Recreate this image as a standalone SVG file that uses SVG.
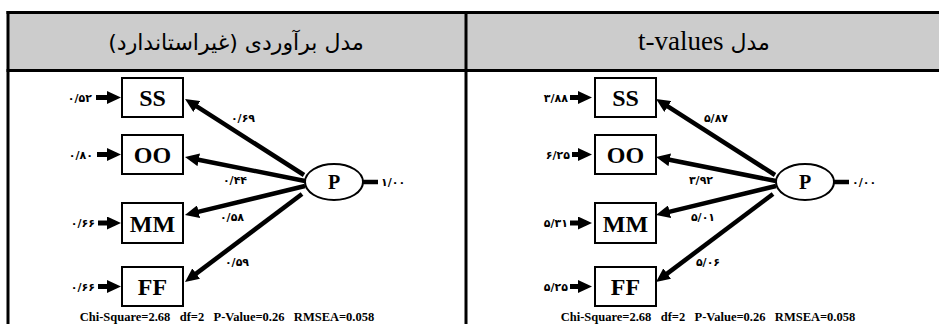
<svg xmlns="http://www.w3.org/2000/svg" width="939" height="324" viewBox="0 0 939 324">
  <style>
    .hdr{fill:#cccccc}
    .rule{stroke:#000;stroke-width:3;fill:none}
    .box{fill:#fff;stroke:#000;stroke-width:2}
    .lat{fill:#fff;stroke:#000;stroke-width:2}
    .lbl{font-family:"Liberation Serif",serif;font-weight:bold;font-size:24px;text-anchor:middle}
    .num{font-family:"DejaVu Sans",sans-serif;font-size:11px;font-weight:bold;fill:#000}
    .edge{stroke:#000;stroke-width:4.5;fill:none;marker-end:url(#ah)}
    .err{stroke:#000;stroke-width:5;fill:none;marker-end:url(#ah)}
    .out{stroke:#000;stroke-width:4.5;fill:none}
    .fit{font-family:"Liberation Serif",serif;font-weight:bold;font-size:12.5px;text-anchor:middle}
    .title{font-family:"DejaVu Sans",sans-serif;font-size:22px;text-anchor:middle}
    .latin{font-family:"Liberation Serif",serif;font-size:27px}
  </style>
  <defs>
    <marker id="ah" markerUnits="userSpaceOnUse" markerWidth="15" markerHeight="13" refX="8" refY="6.5" orient="auto">
      <path d="M0,0 L14,6.5 L0,13 Z" fill="#000"/>
    </marker>
  </defs>

  <!-- table frame -->
  <rect class="hdr" x="8" y="12.5" width="935" height="58"/>
  <g id="table-rules">
    <line class="rule" x1="6.5" y1="12.5" x2="939" y2="12.5"/>
    <line class="rule" x1="6.5" y1="70.5" x2="939" y2="70.5"/>
    <line class="rule" x1="8" y1="11" x2="8" y2="324"/>
    <line class="rule" x1="466" y1="11" x2="466" y2="324"/>
  </g>
  <text id="title-left" class="title" x="236" y="50" direction="rtl">مدل برآوردی (غیراستاندارد)</text>
  <text id="title-right" class="title" x="704" y="50" direction="rtl">مدل <tspan class="latin">t-values</tspan></text>

  <!-- estimated model (unstandardised) -->
  <g id="model-est">
    <g id="est-connectors">
      <line class="edge" x1="304" y1="175" x2="190.1" y2="102.2"/>
      <line class="edge" x1="305" y1="181" x2="190.9" y2="158.2"/>
      <line class="edge" x1="305" y1="186" x2="190.8" y2="213.6"/>
      <line class="edge" x1="302" y1="194" x2="189.8" y2="278.4"/>
      <line class="err" x1="96" y1="97.5" x2="115" y2="97.5"/>
      <line class="err" x1="97" y1="154.5" x2="115" y2="154.5"/>
      <line class="err" x1="98" y1="223" x2="115" y2="223"/>
      <line class="err" x1="98" y1="286.5" x2="115" y2="286.5"/>
      <line class="out" x1="362" y1="182" x2="378" y2="182"/>
      <text class="num" x="243" y="122" text-anchor="middle">۰/۶۹</text>
      <text class="num" x="235" y="184" text-anchor="middle">۰/۴۴</text>
      <text class="num" x="232" y="221" text-anchor="middle">۰/۵۸</text>
      <text class="num" x="237" y="266" text-anchor="middle">۰/۵۹</text>
      <text class="num" x="92" y="101.5" text-anchor="end">۰/۵۲</text>
      <text class="num" x="93" y="158.5" text-anchor="end">۰/۸۰</text>
      <text class="num" x="95" y="227" text-anchor="end">۰/۶۶</text>
      <text class="num" x="95" y="290.5" text-anchor="end">۰/۶۶</text>
      <text class="num" x="381" y="186">۱/۰۰</text>
    </g>
    <g id="est-SS"><rect class="box" x="122" y="78" width="61" height="39"/><text class="lbl" x="152.5" y="106">SS</text></g>
    <g id="est-OO"><rect class="box" x="122" y="135" width="61" height="39"/><text class="lbl" x="152.5" y="163">OO</text></g>
    <g id="est-MM"><rect class="box" x="122" y="203" width="61" height="40"/><text class="lbl" x="152.5" y="231.5">MM</text></g>
    <g id="est-FF"><rect class="box" x="122" y="267" width="61" height="39"/><text class="lbl" x="152.5" y="295">FF</text></g>
    <g id="est-P"><ellipse class="lat" cx="334" cy="182" rx="29" ry="18"/><text class="lbl" x="334" y="189" style="font-size:20px">P</text></g>
    <text class="fit" x="227" y="321" xml:space="preserve">Chi-Square=2.68   df=2   P-Value=0.26   RMSEA=0.058</text>
  </g>

  <!-- t-values model -->
  <g id="model-t" transform="translate(471,0)">
    <g id="t-connectors">
      <line class="edge" x1="304" y1="175" x2="190.1" y2="102.2"/>
      <line class="edge" x1="305" y1="181" x2="190.9" y2="158.2"/>
      <line class="edge" x1="305" y1="186" x2="190.8" y2="213.6"/>
      <line class="edge" x1="302" y1="194" x2="189.8" y2="278.4"/>
      <line class="err" x1="99" y1="97.5" x2="115" y2="97.5"/>
      <line class="err" x1="101" y1="154.5" x2="115" y2="154.5"/>
      <line class="err" x1="99" y1="223" x2="115" y2="223"/>
      <line class="err" x1="99" y1="286.5" x2="115" y2="286.5"/>
      <line class="out" x1="362" y1="182" x2="378" y2="182"/>
      <text class="num" x="245" y="122" text-anchor="middle">۵/۸۷</text>
      <text class="num" x="230" y="184" text-anchor="middle">۳/۹۲</text>
      <text class="num" x="232" y="221" text-anchor="middle">۵/۰۱</text>
      <text class="num" x="237" y="266" text-anchor="middle">۵/۰۶</text>
      <text class="num" x="97" y="101.5" text-anchor="end">۳/۸۸</text>
      <text class="num" x="99" y="158.5" text-anchor="end">۶/۲۵</text>
      <text class="num" x="97" y="227" text-anchor="end">۵/۳۱</text>
      <text class="num" x="97" y="290.5" text-anchor="end">۵/۲۵</text>
      <text class="num" x="381" y="186">۰/۰۰</text>
    </g>
    <g id="t-SS"><rect class="box" x="124" y="78" width="61" height="39"/><text class="lbl" x="154.5" y="106">SS</text></g>
    <g id="t-OO"><rect class="box" x="124" y="135" width="61" height="39"/><text class="lbl" x="154.5" y="163">OO</text></g>
    <g id="t-MM"><rect class="box" x="124" y="203" width="61" height="40"/><text class="lbl" x="154.5" y="231.5">MM</text></g>
    <g id="t-FF"><rect class="box" x="124" y="267" width="61" height="39"/><text class="lbl" x="154.5" y="295">FF</text></g>
    <g id="t-P"><ellipse class="lat" cx="334" cy="182" rx="29" ry="18"/><text class="lbl" x="334" y="189" style="font-size:20px">P</text></g>
    <text class="fit" x="237" y="321" xml:space="preserve">Chi-Square=2.68   df=2   P-Value=0.26   RMSEA=0.058</text>
  </g>
</svg>
